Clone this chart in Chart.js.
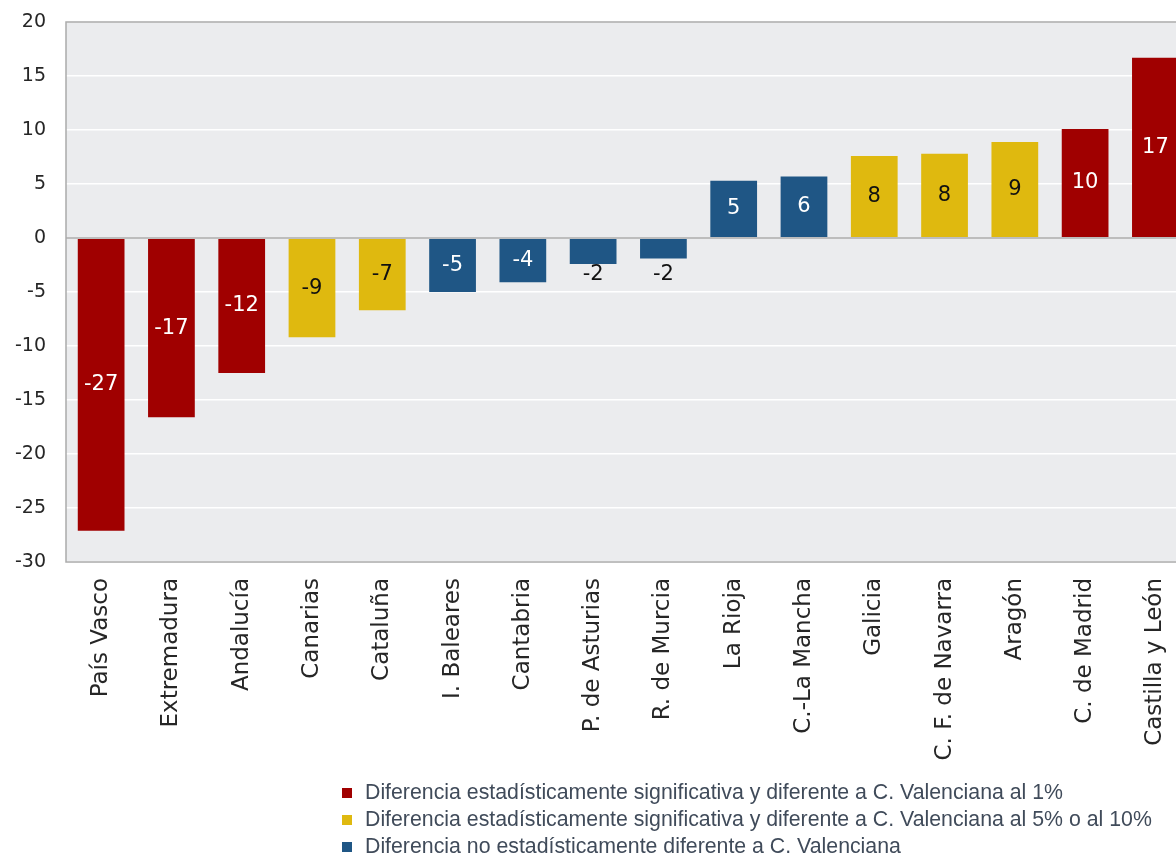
<!DOCTYPE html>
<html>
<head>
<meta charset="utf-8">
<script src="https://cdn.jsdelivr.net/npm/chart.js@4.4.1/dist/chart.umd.min.js"></script>
<style>
  html, body { margin: 0; padding: 0; background: #ffffff; overflow: hidden; width: 1176px; height: 861px; }
  #wrap { position: absolute; left: 0; top: 0; width: 1199px; height: 780px; }
  #legend { position: absolute; left: 342px; top: 779px; font-family: "Liberation Sans", Arial, sans-serif; font-size: 21.3px; color: #404B5A; }
  .row { height: 27px; display: flex; align-items: center; white-space: nowrap; }
  .sw { width: 10px; height: 10px; margin-right: 13px; flex: none; }
</style>
</head>
<body>
<div id="wrap"><canvas id="c" width="1199" height="780"></canvas></div>
<div id="legend"></div>
<script>
// ---- Data ----
const categories = ["País Vasco", "Extremadura", "Andalucía", "Canarias", "Cataluña", "I. Baleares", "Cantabria", "P. de Asturias", "R. de Murcia", "La Rioja", "C.-La Mancha", "Galicia", "C. F. de Navarra", "Aragón", "C. de Madrid", "Castilla y León"];
const values = [-27.1, -16.6, -12.5, -9.2, -6.7, -5.0, -4.1, -2.4, -1.9, 5.3, 5.7, 7.6, 7.8, 8.9, 10.1, 16.7];
const valueLabels = ["-27", "-17", "-12", "-9", "-7", "-5", "-4", "-2", "-2", "5", "6", "8", "8", "9", "10", "17"];
// group index per category: 0 = 1%, 1 = 5% o 10%, 2 = no significativa
const groups = [0, 0, 0, 1, 1, 2, 2, 2, 2, 2, 2, 1, 1, 1, 0, 0];
const groupNames = [
  "Diferencia estadísticamente significativa y diferente a C. Valenciana al 1%",
  "Diferencia estadísticamente significativa y diferente a C. Valenciana al 5% o al 10%",
  "Diferencia no estadísticamente diferente a C. Valenciana"
];
const yMin = -30, yMax = 20, yStep = 5;

// ---- Styles ----
const groupColors = ["#A00000", "#DFB90F", "#1F5685"];
const groupLabelColors = ["#FFFFFF", "#111111", "#FFFFFF"];
const tickFont = "DejaVu Sans";

const datasets = groupNames.map((name, g) => ({
  label: name,
  data: values.map((v, i) => groups[i] === g ? v : null),
  backgroundColor: groupColors[g],
  borderWidth: 0,
  grouped: false,
  categoryPercentage: 1.0,
  barPercentage: 0.665
}));

const plotBg = {
  id: "plotBg",
  beforeDraw(chart) {
    const { ctx, chartArea: a } = chart;
    ctx.save();
    ctx.fillStyle = "#EBECEE";
    ctx.fillRect(a.left, a.top, a.right - a.left, a.bottom - a.top);
    ctx.restore();
  },
  beforeDatasetsDraw(chart) {
    const { ctx, chartArea: a } = chart;
    ctx.save();
    ctx.strokeStyle = "#ABABAB";
    ctx.lineWidth = 1.5;
    ctx.strokeRect(a.left, a.top, a.right - a.left, a.bottom - a.top);
    ctx.restore();
  }
};

const dataLabels = {
  id: "dataLabels",
  afterDatasetsDraw(chart) {
    const { ctx } = chart;
    ctx.save();
    ctx.font = "21px " + tickFont;
    ctx.textAlign = "center";
    ctx.textBaseline = "middle";
    chart.data.datasets.forEach((ds, g) => {
      const meta = chart.getDatasetMeta(g);
      meta.data.forEach((el, i) => {
        if (ds.data[i] === null) return;
        const { x, y, base } = el.getProps(["x", "y", "base"], true);
        const h = Math.abs(base - y);
        let ty, color;
        if (h < 30) {
          ty = ds.data[i] < 0 ? base + 36 : base - 36;
          color = "#111111";
        } else {
          ty = (y + base) / 2;
          color = groupLabelColors[g];
        }
        ctx.fillStyle = color;
        ctx.fillText(valueLabels[i], x, ty);
      });
    });
    ctx.restore();
  }
};

new Chart(document.getElementById("c"), {
  type: "bar",
  data: { labels: categories, datasets },
  options: {
    responsive: false,
    animation: false,
    layout: { autoPadding: false, padding: { top: 22, right: 0, bottom: 0, left: 0 } },
    plugins: { legend: { display: false }, tooltip: { enabled: false } },
    scales: {
      x: {
        grid: { display: false, drawTicks: false },
        border: { display: false },
        ticks: {
          minRotation: 90, maxRotation: 90, autoSkip: false, padding: 16,
          color: "#262626", font: { family: tickFont, size: 23 }
        },
        afterFit(scale) { scale.height = 218; }
      },
      y: {
        min: yMin, max: yMax,
        grid: {
          drawTicks: false,
          color: (c) => c.tick && c.tick.value === 0 ? "#BDBDBD" : "#FFFFFF",
          lineWidth: (c) => c.tick && c.tick.value === 0 ? 2 : 1.5
        },
        border: { display: false },
        ticks: {
          stepSize: yStep, padding: 20,
          color: "#262626", font: { family: tickFont, size: 19 }
        },
        afterFit(scale) { scale.width = 66; scale.paddingTop = 11; scale.paddingBottom = 11; }
      }
    }
  },
  plugins: [plotBg, dataLabels]
});

// ---- Legend (HTML text) ----
const legend = document.getElementById("legend");
groupNames.forEach((name, g) => {
  const row = document.createElement("div");
  row.className = "row";
  const sw = document.createElement("span");
  sw.className = "sw";
  sw.style.background = groupColors[g];
  const tx = document.createElement("span");
  tx.textContent = name;
  row.appendChild(sw);
  row.appendChild(tx);
  legend.appendChild(row);
});
</script>
</body>
</html>
